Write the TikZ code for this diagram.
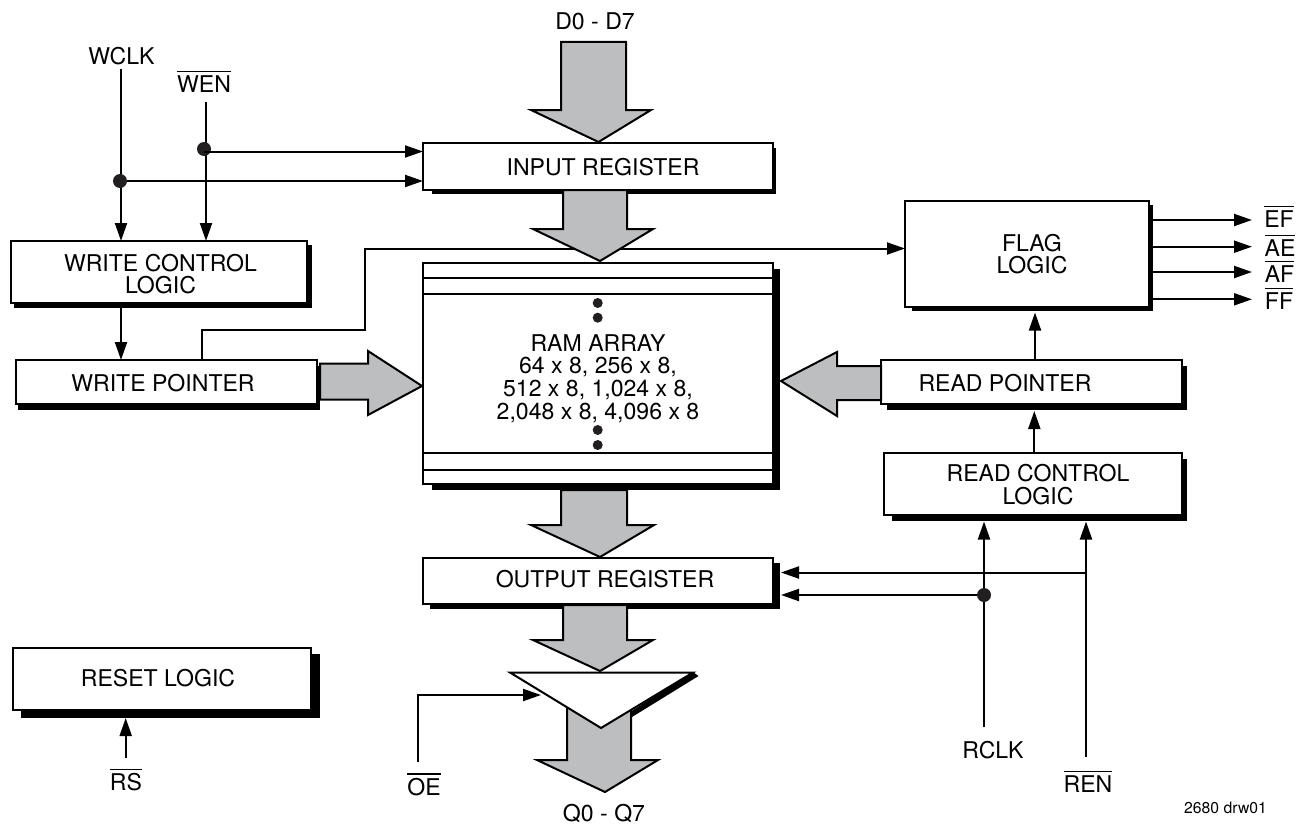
\documentclass[tikz,border=0pt]{standalone}
\usepackage{fontspec}
\setmainfont{TeX Gyre Heros}
\usetikzlibrary{arrows.meta}
\newcommand\ovl[1]{\leavevmode\vbox{\hrule height 0.85pt\kern 2.6pt\hbox{#1}}}
\newcommand\blockbox[5]{%
  \pgfmathsetmacro\bw{(#4-#2)*0.75}\pgfmathsetmacro\bh{(#5-#3)*0.75}%
  \node[blockbox,minimum width=\bw pt,minimum height=\bh pt] (#1) at ({(#2+#4)/2},{(#3+#5)/2}) {};}
\newcommand\dropshadow[4]{\fill[black] (#1,#2) rectangle (#3,#4);}
\newcommand\bigdown[7]{%
  \filldraw[busarrow] (#1,#3) -- (#1,#4) -- (#5,#4) -- #7 -- (#6,#4) -- (#2,#4) -- (#2,#3) -- cycle;}
\tikzset{
  x=0.75pt,y=-0.75pt,
  blockbox/.style={draw=black,fill=white,line width=1.5pt,inner sep=0pt,outer sep=0pt},
  busarrow/.style={draw=black,fill=busgray,line width=1.5pt,line join=miter},
  sig/.style={draw=black,line width=1.5pt,-{Triangle[length=13.5pt,width=9pt]}},
  thinline/.style={draw=black,line width=1.5pt},
  lbl/.style={font=\fontsize{17.3pt}{17pt}\selectfont,inner sep=0pt,outer sep=0pt,align=center},
  dot/.style={circle,fill=dotblack,draw=none,minimum size=10.5pt,inner sep=0pt,outer sep=0pt},
  ramdot/.style={circle,fill=dotblack,draw=none,minimum size=7.5pt,inner sep=0pt,outer sep=0pt}
}
\definecolor{busgray}{RGB}{188,190,192}
\definecolor{dotblack}{RGB}{35,31,32}
\begin{document}
\begin{tikzpicture}
\useasboundingbox (0,0) rectangle (1301,824);
% free ends
\coordinate (wclkTop) at (121,69);
\coordinate (wenTop) at (206,102);
\coordinate (rclkEnd) at (984,727);
\coordinate (renEnd) at (1086,757);
\coordinate (oeEnd) at (418,762);
\coordinate (oeCorner) at (418,695);
\coordinate (oeTip) at (541,695);
\coordinate (rsEnd) at (125.7,758);
\coordinate (ptrA) at (202,330);
\coordinate (ptrB) at (365,330);
\coordinate (ptrC) at (365,248.5);
% shadows
\dropshadow{14}{245}{312}{308}
\dropshadow{18}{366}{320}{410}
\dropshadow{432}{148}{776}{194}
\dropshadow{432}{269}{780}{490}
\dropshadow{430}{563}{780}{609}
\dropshadow{912}{205}{1153}{311}
\dropshadow{887}{366}{1187}{410}
\dropshadow{892}{459}{1187}{521}
\dropshadow{21}{654}{320}{718}
% boxes
\blockbox{wcl}{11}{241}{307}{303}
\blockbox{wp}{16}{360}{317}{404}
\blockbox{ir}{423}{143}{773}{189.5}
\blockbox{ram}{423}{263}{773}{484}
\blockbox{or}{423}{558}{773}{604}
\blockbox{flag}{905}{201}{1148.5}{307}
\blockbox{rp}{881}{360}{1182}{404}
\blockbox{rcl}{884}{453}{1182}{515}
\blockbox{reset}{13}{648}{311}{710}
\node[lbl] (wclT) at (160.5,274) {WRITE CONTROL\\LOGIC};
\node[lbl] (wpT) at (163,383) {WRITE POINTER};
\node[lbl] (irT) at (603,167) {INPUT REGISTER};
\node[lbl] (orT) at (605,579) {OUTPUT REGISTER};
\node[lbl] (flagT) at (1032,254) {FLAG\\LOGIC};
\node[lbl] (rpT) at (1005,383) {READ POINTER};
\node[lbl] (rclT) at (1038,484.5) {READ CONTROL\\LOGIC};
\node[lbl] (resetT) at (158,678) {RESET LOGIC};
\node[lbl] (ramT) at (598,378.5) {RAM ARRAY\\64 x 8, 256 x 8,\\512 x 8, 1,024 x 8,\\2,048 x 8, 4,096 x 8};
% RAM details
\draw[thinline] (ram.west |- 0,278) -- (ram.east |- 0,278);
\draw[thinline] (ram.west |- 0,294) -- (ram.east |- 0,294);
\draw[thinline] (ram.west |- 0,453) -- (ram.east |- 0,453);
\draw[thinline] (ram.west |- 0,469.5) -- (ram.east |- 0,469.5);
\node[ramdot] (d1) at (597.7,303) {};
\node[ramdot] (d2) at (597.7,317.7) {};
\node[ramdot] (d3) at (597.7,430) {};
\node[ramdot] (d4) at (597.7,445) {};
% pointer to flag wire
\draw[sig] (wp.north -| ptrA) -- (ptrA) -- (ptrB) -- (ptrC) -- (flag.west |- ptrC);
% bus arrows
\bigdown{561}{626}{42}{110}{531}{651}{(598.5,142)}
\bigdown{563}{627}{190}{229}{533}{653}{(600,261)}
\bigdown{561}{627}{490}{525}{531}{654}{(600,557)}
\bigdown{563}{627}{605}{640}{533}{653}{(600,671)}
\bigdown{567}{631}{700}{760}{537}{658}{(605,792)}
\filldraw[busarrow] (320,363.5) -- (368,363.5) -- (368,351) -- (422,386) -- (368,415) -- (368,399.5) -- (320,399.5) -- cycle;
\filldraw[busarrow] (881,366) -- (837,366) -- (837,352) -- (781,381) -- (837,416) -- (837,400) -- (881,400) -- cycle;
% triangle
\fill[black] (693,672) -- (698.5,676) -- (632,717) -- (630,712) -- cycle;
\filldraw[draw=black,fill=white,line width=1.5pt] (510,672.5) -- (693,672.5) -- (601,728) -- cycle;
% text labels
\node[lbl] (wclk) at (121.5,56.5) {WCLK};
\node[lbl] (wen) at (204,82) {\ovl{WEN}};
\node[lbl] (din) at (595,21) {D0 - D7};
\node[lbl] (dout) at (604,813.5) {Q0 - Q7};
\node[lbl] (ef) at (1279,217) {\ovl{EF}};
\node[lbl] (ae) at (1280,246) {\ovl{AE}};
\node[lbl] (af) at (1279.5,272) {\ovl{AF}};
\node[lbl] (ff) at (1279,299) {\ovl{FF}};
\node[lbl] (rclk) at (993,750) {RCLK};
\node[lbl] (ren) at (1088,782) {\ovl{REN}};
\node[lbl] (oe) at (424,784.5) {\ovl{OE}};
\node[lbl] (rs) at (126,780) {\ovl{RS}};
\node[font=\fontsize{11.8pt}{13pt}\selectfont,inner sep=0pt] (drw) at (1225.5,808) {2680 drw01};
% connectors
\draw[sig] (wclkTop) -- (wcl.north -| wclkTop);
\draw[sig] (wenTop) -- (wcl.north -| wenTop);
\draw[sig] (wcl.south -| wclkTop) ++(0,5) -- (wp.north -| wclkTop);
\node[dot] (wd1) at (120,181) {};
\node[dot] (wd2) at (204,149) {};
\draw[sig] (wd1) -- (ir.west |- wd1);
\draw[sig] (wd2 |- 0,151.5) -- (ir.west |- 0,151.5);
\coordinate (fl1) at (1252,220);
\coordinate (fl2) at (1252,246.7);
\coordinate (fl3) at (1252,272);
\coordinate (fl4) at (1252,299.3);
\draw[sig] (1153,220) -- (fl1);
\draw[sig] (1153,246.7) -- (fl2);
\draw[sig] (1153,272) -- (fl3);
\draw[sig] (1153,299.3) -- (fl4);
\draw[sig] (rp.north -| 1035,0) -- (1035,312.5);
\draw[sig] (rcl.north -| 1034.3,0) -- (1034.3,411);
\draw[sig] (rclkEnd) -- (984,521.5);
\draw[sig] (renEnd) -- (1086,521.5);
\node[dot] (rd1) at (984,595) {};
\draw[sig] (rd1) -- (781,595);
\draw[sig] (1086,572.5) -- (781,572.5);
\draw[sig] (oeEnd) -- (oeCorner) -- (oeTip);
\draw[sig] (rsEnd) -- (125.7,718);
\end{tikzpicture}
\end{document}
